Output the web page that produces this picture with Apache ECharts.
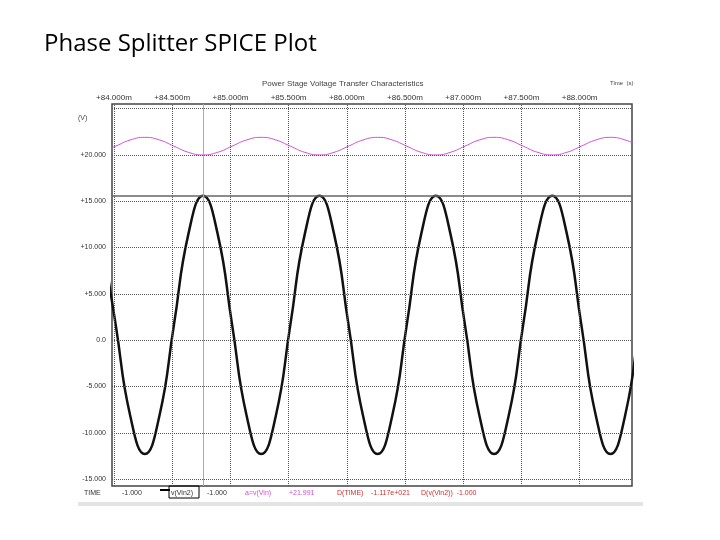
<!DOCTYPE html>
<html><head><meta charset="utf-8">
<script src="https://cdn.jsdelivr.net/npm/echarts@6/dist/echarts.min.js"></script>
<style>body{margin:0;background:#fff}#c{width:720px;height:540px}</style>
</head><body><div id="c"></div>
<script>
const timeMs = [83.890,84.015,84.140,84.265,84.390,84.515,84.640,84.765,84.890,85.015,85.140,85.265,85.390,85.515,85.640,85.765,85.890,86.015,86.140,86.265,86.390,86.515,86.640,86.765,86.890,87.015,87.140,87.265,87.390,87.515,87.640,87.765,87.890,88.015,88.140,88.265,88.390,88.515,88.640];
const vOut = [11.5,1.65,-8.2,-12.3,-8.2,1.65,11.5,15.6, 11.5,1.65,-8.2,-12.3,-8.2,1.65,11.5,15.6, 11.5,1.65,-8.2,-12.3,-8.2,1.65,11.5,15.6, 11.5,1.65,-8.2,-12.3,-8.2,1.65,11.5,15.6, 11.5,1.65,-8.2,-12.3,-8.2,1.65,11.5];
const vIn = [20.28,20.95,21.62,21.9,21.62,20.95,20.28,20.0, 20.28,20.95,21.62,21.9,21.62,20.95,20.28,20.0, 20.28,20.95,21.62,21.9,21.62,20.95,20.28,20.0, 20.28,20.95,21.62,21.9,21.62,20.95,20.28,20.0, 20.28,20.95,21.62,21.9,21.62,20.95,20.28];
const xTicks = [84,84.5,85,85.5,86,86.5,87,87.5,88];
const xTickLabels = ['+84.000m','+84.500m','+85.000m','+85.500m','+86.000m','+86.500m','+87.000m','+87.500m','+88.000m'];
const yTicks = [-15,-10,-5,0,5,10,15,20];
const yTickLabels = ['-15.000','-10.000','-5.000','0.0','+5.000','+10.000','+15.000','+20.000'];
const yGrid = [-15,-10,-5,0,5,10,15,20,25];
const separatorV = 15.6, cursorT = 84.765;

const ch = echarts.init(document.getElementById('c'));
const dot = {type:'dotted',color:'#555',width:1};
ch.setOption({
  animation:false,
  grid:{left:112,right:88,top:104,bottom:54,show:true,borderColor:'#444',borderWidth:1.5},
  xAxis:{type:'value',position:'top',min:83.983,max:88.45,
    axisLine:{show:false},axisTick:{show:false},splitLine:{show:false},
    axisLabel:{customValues:xTicks,fontSize:8,color:'#333',margin:2,
      formatter:v=>xTickLabels[xTicks.findIndex(t=>Math.abs(t-v)<1e-6)]||''}},
  yAxis:{type:'value',min:-15.75,max:25.5,
    axisLine:{show:false},axisTick:{show:false},splitLine:{show:false},
    axisLabel:{customValues:yTicks,fontSize:7,color:'#333',margin:6,
      formatter:v=>yTickLabels[yTicks.findIndex(t=>Math.abs(t-v)<1e-6)]||''}},
  series:[
    {type:'line',data:[],silent:true,
     markLine:{symbol:'none',silent:true,label:{show:false},
       data:[...yGrid.map(y=>({yAxis:y,lineStyle:dot})),...xTicks.map(x=>({xAxis:x,lineStyle:dot})),
         {yAxis:separatorV,lineStyle:{type:'solid',color:'#666',width:1.5}},
         {xAxis:cursorT,lineStyle:{type:'solid',color:'#aaa',width:1}}]}},
    {type:'line',data:timeMs.map((t,i)=>[t,vIn[i]]),smooth:0.5,symbol:'none',
     lineStyle:{color:'#d050d0',width:1}},
    {type:'line',data:timeMs.map((t,i)=>[t,vOut[i]]),smooth:0.5,symbol:'none',
     lineStyle:{color:'#111',width:2.5}}
  ],
  graphic:[
    {type:'text',left:44,top:32,style:{text:'Phase Splitter SPICE Plot',font:'24px "Open Sans", sans-serif',fill:'#000'}},
    {type:'text',left:262,top:80,style:{text:'Power Stage Voltage Transfer Characteristics',font:'8px sans-serif',fill:'#444'}},
    {type:'text',left:610,top:80,style:{text:'Time  (s)',font:'6px sans-serif',fill:'#444'}},
    {type:'text',left:78,top:115,style:{text:'(V)',font:'7px sans-serif',fill:'#444'}},
    {type:'text',left:84,top:490,style:{text:'TIME',font:'7px sans-serif',fill:'#333'}},
    {type:'text',left:122,top:490,style:{text:'-1.000',font:'7px sans-serif',fill:'#333'}},
    {type:'rect',shape:{x:160,y:489,width:10,height:2},style:{fill:'#000'}},
    {type:'rect',shape:{x:169,y:486,width:30,height:12},style:{fill:'none',stroke:'#000',lineWidth:1}},
    {type:'text',left:171,top:490,style:{text:'v(Vin2)',font:'7px sans-serif',fill:'#333'}},
    {type:'text',left:207,top:490,style:{text:'-1.000',font:'7px sans-serif',fill:'#333'}},
    {type:'text',left:245,top:490,style:{text:'a=v(Vin)',font:'7px sans-serif',fill:'#d050d0'}},
    {type:'text',left:289,top:490,style:{text:'+21.991',font:'7px sans-serif',fill:'#d050d0'}},
    {type:'text',left:337,top:490,style:{text:'D(TIME)',font:'7px sans-serif',fill:'#d03030'}},
    {type:'text',left:371,top:490,style:{text:'-1.117e+021',font:'7px sans-serif',fill:'#d03030'}},
    {type:'text',left:421,top:490,style:{text:'D(v(Vin2))  -1.000',font:'7px sans-serif',fill:'#d03030'}},
    {type:'rect',shape:{x:78,y:502,width:565,height:4},style:{fill:'#e4e4e4'}}
  ]
});
</script></body></html>
